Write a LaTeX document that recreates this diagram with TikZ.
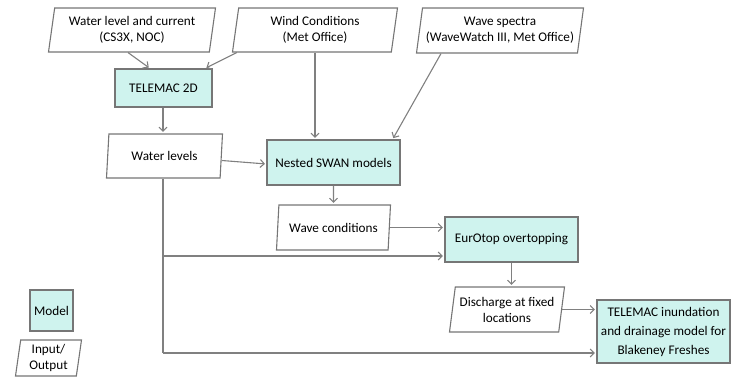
\documentclass[tikz,border=0pt]{standalone}
\usepackage{fontspec}
\setmainfont{Carlito}
\usepackage{tikz}
\usetikzlibrary{shapes.geometric,arrows.meta,calc}
\definecolor{modelcolor}{RGB}{207,243,238}
\definecolor{linecolor}{RGB}{118,118,118}
\definecolor{arrowcolor}{RGB}{128,128,128}

\begin{document}
\begin{tikzpicture}[x=1pt,y=-1pt]
  %%Styles for the boxes and the arrows
  \tikzset{model box/.style={draw=linecolor,line width=1.1pt,fill=modelcolor,align=center,inner sep=1pt,font=\fontsize{13.2}{16}\selectfont}}
  \tikzset{data box/.style={draw=linecolor,line width=1.1pt,fill=white,align=center,inner sep=1pt,font=\fontsize{13.2}{16}\selectfont,
      trapezium,trapezium left angle=78,trapezium right angle=102,trapezium stretches body=true}}
  \tikzset{flow arrow/.style={draw,-{Straight Barb[length=4pt,width=8pt,line width=1.1pt]},shorten >=1.5pt,line width=1.1pt,color=arrowcolor}}
  \tikzset{flow line/.style={draw,line width=1.1pt,color=arrowcolor}}
  \useasboundingbox (0,0) rectangle (731,378);
  %%Input data along the top
  \node[data box,minimum width=167pt,minimum height=44pt] (wlin) at (132,30) {Water level and current\\(CS3X, NOC)};
  \node[data box,minimum width=165pt,minimum height=44pt] (wind) at (315,30) {Wind Conditions\\(Met Office)};
  \node[data box,minimum width=167pt,minimum height=45pt] (spec) at (500,30.5) {Wave spectra\\(WaveWatch III, Met Office)};
  %%Models and intermediate results
  \node[model box,minimum width=97pt,minimum height=38pt] (tele) at (163.5,88) {TELEMAC 2D};
  \node[data box,minimum width=116pt,minimum height=44pt] (wlev) at (164.5,156) {Water levels};
  \node[model box,minimum width=133pt,minimum height=45pt] (swan) at (333.5,162.5) {Nested SWAN models};
  \node[data box,minimum width=114pt,minimum height=45pt] (wcond) at (333.5,227.5) {Wave conditions};
  \node[model box,minimum width=133pt,minimum height=45pt] (euro) at (511.5,239.5) {EurOtop overtopping};
  \node[data box,minimum width=115pt,minimum height=45pt] (disc) at (507,309.5) {Discharge at fixed\\locations};
  \node[model box,minimum width=133pt,minimum height=63pt,font=\fontsize{13.2}{19}\selectfont] (inund) at (663.5,331.5) {TELEMAC inundation\\and drainage model for\\Blakeney Freshes};
  %%Legend
  \node[model box,minimum width=43pt,minimum height=41pt] (legm) at (51.5,310.5) {Model};
  \node[data box,minimum width=66pt,minimum height=36pt,trapezium left angle=80,trapezium right angle=100] (legio) at (48.5,358) {Input/\\Output};
  %%Points where the water level line turns
  \coordinate (j1) at (163,256);
  \coordinate (j2) at (163,353);
  %%Drawing the arrows
  \path[flow arrow] ([xshift=-4pt]wlin.south) -- ([xshift=-13.5pt]tele.north);
  \path[flow arrow] ([xshift=5pt]wind.bottom left corner) -- ([xshift=41.5pt]tele.north);
  \path[flow arrow] (wind.south) -- (wind.south |- swan.north);
  \path[flow arrow] ([xshift=-59pt]spec.south) -- ([xshift=-8pt]swan.north east);
  \path[flow arrow] (tele.south -| j1) -- (wlev.north -| j1);
  \path[flow arrow] ([yshift=-4.5pt]wlev.east) -- ([yshift=-1.5pt]swan.west);
  \path[flow arrow] (swan.south) -- (wcond.north);
  \path[flow arrow] (wcond.east) -- (wcond.east -| euro.west);
  \path[flow line] (wlev.south -| j1) -- (j2);
  \path[flow arrow] (j1) -- (j1 -| euro.west);
  \path[flow arrow] (j2) -- (j2 -| inund.west);
  \path[flow arrow] (euro.south) -- (euro.south |- disc.north);
  \path[flow arrow] (disc.east) -- (disc.east -| inund.west);
\end{tikzpicture}
\end{document}
